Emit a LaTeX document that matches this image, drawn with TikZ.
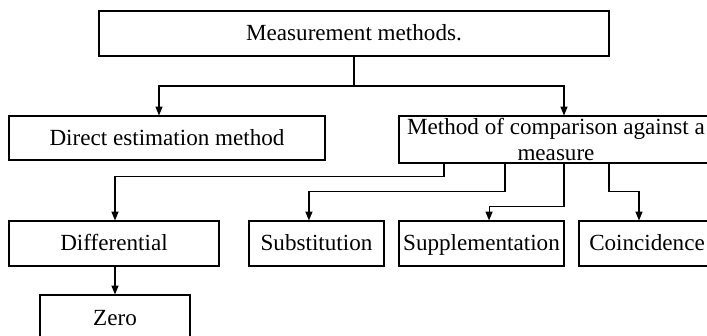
\documentclass[tikz,border=0pt]{standalone}
\usepackage{fontspec}
\setmainfont{Liberation Serif}
\usetikzlibrary{arrows.meta}

\tikzset{
	box/.style={draw, shape=rectangle, line width=0.5pt, inner sep=0pt, align=center, font=\fontsize{10.4}{11.6}\selectfont},
	onebox/.style={box, text height=8.8pt, text depth=2.2pt},
	conn/.style={line width=0.5pt},
	arr/.style={conn, -{Triangle[length=4pt, width=3.2pt]}}
}

\begin{document}
\begin{tikzpicture}[x=0.45pt, y=-0.45pt]
			\useasboundingbox (0, 0) rectangle (707, 336);
			\clip (0, 0) rectangle (707, 336);
			\node[onebox, minimum width=229.5pt, minimum height=20.25pt](Meas) at (354, 33.5){Measurement methods.};
			\node[onebox, minimum width=142.2pt, minimum height=19.8pt](Direct) at (167, 138){Direct estimation method};
			\node[box, minimum width=141.3pt, minimum height=21.15pt](Compare) at (556, 139.5){Method of comparison against a\\measure};
			\node[onebox, minimum width=94.5pt, minimum height=20.25pt](Diff) at (114, 243.5){Differential};
			\node[onebox, minimum width=60.75pt, minimum height=20.25pt](Subst) at (316.5, 243.5){Substitution};
			\node[onebox, minimum width=74.25pt, minimum height=20.25pt](Suppl) at (481.5, 243.5){Supplementation};
			\node[onebox, minimum width=61.2pt, minimum height=20.25pt](Coinc) at (647, 243.5){Coincidence};
			\node[onebox, minimum width=67.5pt, minimum height=20.7pt](Zero) at (115, 318){Zero};
			\coordinate (J1) at (354, 86);
			\draw[conn] (Meas.south) -- (J1);
			\draw[arr] (J1) -| ([xshift=-3.6pt]Direct.north);
			\draw[arr] (J1) -| ([xshift=3.6pt]Compare.north);
			\draw[arr] ([xshift=-50.4pt]Compare.south) -- ++(0, 13) -| ([xshift=0.45pt]Diff.north);
			\draw[arr] ([xshift=-22.95pt]Compare.south) -- ++(0, 28) -| ([xshift=-3.4pt]Subst.north);
			\draw[arr] ([xshift=3.6pt]Compare.south) -- ++(0, 43) -| ([xshift=3.4pt]Suppl.north);
			\draw[arr] ([xshift=23.85pt]Compare.south) -- ++(0, 28) -| ([xshift=-3.6pt]Coinc.north);
			\draw[arr] ([xshift=0.45pt]Diff.south) -- (Zero.north);
		\end{tikzpicture}
\end{document}
